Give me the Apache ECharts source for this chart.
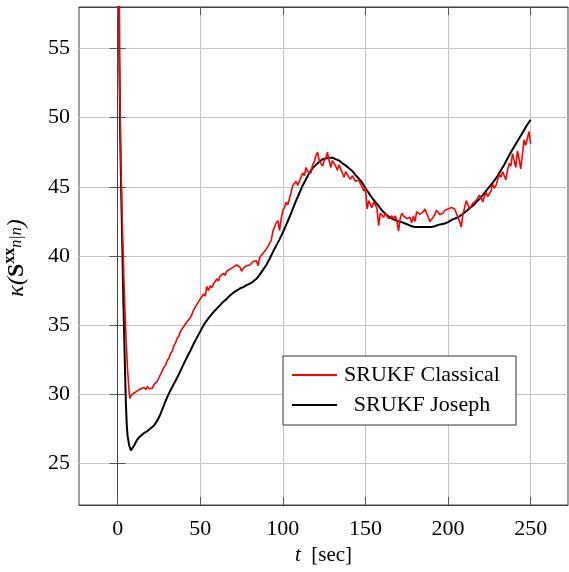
<!DOCTYPE html>
<html>
<head>
<meta charset="utf-8">
<script src="https://cdn.jsdelivr.net/npm/echarts@6/dist/echarts.min.js"></script>
<style>
html,body{margin:0;padding:0;background:#fff;}
#chart{width:569px;height:572px;}
</style>
</head>
<body>
<div id="chart"></div>
<script>
// ---- Data ----
var seriesNames = ['SRUKF Classical', 'SRUKF Joseph'];

var classicalT = [0,1,2,3,4,5,6,7,7.5,8,9,10,11,12,13,14,15,16,17,18,19,20,21,22,23,24,25,26,27,28,29,30,31,32,33,34,35,36,37,38,39,40,41,42,43,44,45,46,47,48,49,50,51,52,53,54,55,56,57,58,59,60,61,62,63,64,65,66,67,68,69,70,71,72,73,74,75,76,77,78,79,80,81,82,83,84,85,86,87,88,89,90,91,92,93,94,95,96,97,98,99,100,101,102,103,104,105,106,107,108,109,110,111,112,113,114,115,116,117,118,119,120,121,122,123,124,125,126,127,128,129,130,131,132,133,134,135,136,137,138,139,140,141,142,143,144,145,146,147,148,149,150,151,152,153,154,155,156,157,158,159,160,161,162,163,164,165,166,167,168,169,170,171,172,173,174,175,176,177,178,179,180,181,182,183,184,185,186,187,188,189,190,191,192,193,194,195,196,197,198,199,200,201,202,203,204,205,206,207,208,209,210,211,212,213,214,215,216,217,218,219,220,221,222,223,224,225,226,227,228,229,230,231,232,233,234,235,236,237,238,239,240,241,242,243,244,245,246,247,248,249,250];
var classicalK = [120,54,46.5,41.5,37.5,34.2,31.8,30.1,29.7,29.9,29.85,30.1,30.0,30.25,30.15,30.4,30.3,30.5,30.35,30.55,30.4,30.5,30.45,30.7,30.6,30.95,31.2,31.45,31.7,31.95,32.1,32.45,32.6,32.95,33.1,33.5,33.7,34.05,34.2,34.55,34.6,34.9,35.0,35.25,35.3,35.55,35.8,36.1,36.2,36.5,36.4,36.9,36.95,37.25,37.1,37.8,37.5,37.85,37.7,38.0,38.15,38.35,38.2,38.55,38.45,38.75,38.6,38.9,38.8,39.05,38.95,39.2,39.1,39.35,39.45,39.2,38.9,39.1,39.05,39.3,39.2,39.35,39.45,39.6,39.5,39.65,39.3,39.9,40.05,40.2,40.35,40.5,40.7,40.95,41.15,41.8,41.75,42.4,42.55,41.85,42.7,43.3,43.5,43.9,43.7,43.6,44.6,45.1,45.0,45.4,45.1,45.2,45.7,46.0,45.8,46.4,46.1,46.2,46.0,46.6,46.8,47.25,47.5,46.9,46.7,46.5,46.9,47.1,47.5,46.9,46.4,46.9,46.8,46.5,46.2,46.6,46.3,46.0,45.7,46.1,46.0,45.7,45.55,45.8,45.7,45.4,45.3,45.5,45.2,45.0,44.7,44.9,43.4,44.0,43.7,43.5,43.9,43.7,43.4,42.2,43.1,43.0,42.8,43.1,43.0,42.7,42.65,42.9,42.7,42.9,42.6,41.8,42.7,43.1,42.9,43.0,42.7,42.65,42.8,42.4,42.9,42.5,43.2,43.1,43.0,42.9,43.2,43.4,43.1,42.8,42.5,42.4,42.8,43.0,43.3,43.2,43.0,42.9,43.1,43.3,43.2,43.4,43.3,43.5,43.4,43.4,43.1,42.8,42.5,42.1,43.0,43.5,44.0,43.7,43.4,43.6,43.8,43.7,44.0,43.9,44.4,44.2,43.9,44.3,44.6,44.3,44.25,44.7,45.2,44.9,45.1,45.5,45.9,45.7,46.1,45.8,45.5,46.2,46.7,46.5,47.4,46.9,46.4,47.6,47.0,46.3,47.3,48.4,48.0,47.9,49.0,48.1];

var josephT = [0,0.5,1,1.5,2,2.5,3,3.5,4,4.5,5,5.5,6,7,8,9,10,11,12,13,14,16,18,20,22,24,26,28,30,32,34,36,38,40,42,44,46,48,50,52,54,56,58,60,62,64,66,68,70,72,74,76,78,80,82,84,86,88,90,92,94,96,98,100,102,104,106,108,110,112,114,116,118,120,122,124,126,128,130,132,134,136,138,140,142,144,146,148,150,152,154,156,158,160,162,164,166,168,170,172,174,176,178,180,182,184,186,188,190,192,194,196,198,200,202,204,206,208,210,212,214,216,218,220,222,224,226,228,230,232,234,236,238,240,242,244,246,248,250];
var josephK = [120,75,55,49,45.5,42.6,39.5,36.5,34.0,31.5,29.3,27.8,27.0,26.3,25.95,26.05,26.3,26.55,26.75,26.9,27.0,27.2,27.35,27.55,27.75,28.1,28.6,29.2,29.8,30.3,30.75,31.2,31.7,32.2,32.7,33.15,33.65,34.1,34.55,35.0,35.35,35.65,35.95,36.2,36.45,36.7,36.9,37.15,37.35,37.5,37.65,37.75,37.9,38.0,38.15,38.35,38.65,39.0,39.35,39.8,40.3,40.75,41.2,41.7,42.25,42.8,43.4,44.0,44.55,45.1,45.55,46.0,46.35,46.6,46.8,47.0,47.05,47.1,47.1,47.0,46.9,46.7,46.55,46.35,46.15,45.85,45.6,45.3,44.9,44.55,44.2,43.9,43.6,43.3,43.05,42.85,42.7,42.6,42.5,42.45,42.35,42.25,42.15,42.1,42.1,42.1,42.1,42.1,42.1,42.15,42.25,42.3,42.35,42.45,42.6,42.7,42.8,42.95,43.15,43.35,43.55,43.75,44.0,44.25,44.55,44.85,45.15,45.45,45.8,46.2,46.6,47.05,47.5,47.9,48.3,48.7,49.1,49.5,49.85];

var xTicks = [0,50,100,150,200,250];
var yTicks = [25,30,35,40,45,50,55];

// ---- Build chart ----
function zip(a, b) { var r = []; for (var i = 0; i < a.length; i++) r.push([a[i], b[i]]); return r; }

var FONT = 'Liberation Serif';
var chart = echarts.init(document.getElementById('chart'), null, {renderer: 'canvas'});

var gridLineStyle = {color: '#c4c4c4', width: 1};
var tickStyle = {color: '#555', width: 1};

var option = {
  animation: false,
  backgroundColor: '#fff',
  grid: {left: 79, top: 7, right: 1, bottom: 67, show: true, borderColor: '#444', borderWidth: 1, backgroundColor: 'transparent'},
  xAxis: [{
    type: 'value', min: -23.4, max: 272.6,
    axisLine: {show: true, lineStyle: {color: '#444'}},
    axisTick: {show: true, inside: true, length: 8, lineStyle: tickStyle, customValues: xTicks},
    axisLabel: {customValues: xTicks, margin: 13, color: '#000', fontFamily: FONT, fontSize: 22},
    splitLine: {show: true, lineStyle: gridLineStyle},
    name: '{i|t}  [sec]',
    nameLocation: 'middle', nameGap: 34,
    nameTextStyle: {color: '#000', fontFamily: FONT, fontSize: 21,
      rich: {i: {fontStyle: 'italic', fontFamily: FONT, fontSize: 21, color: '#000'}}}
  }, {
    type: 'value', position: 'top', min: -23.4, max: 272.6,
    axisLine: {show: true, lineStyle: {color: '#444'}},
    axisTick: {show: true, inside: true, length: 8, lineStyle: tickStyle, customValues: xTicks},
    axisLabel: {show: false, customValues: xTicks},
    splitLine: {show: false}
  }],
  yAxis: [{
    type: 'value', min: 22, max: 58,
    axisLine: {show: true, lineStyle: {color: '#444'}},
    axisTick: {show: true, inside: true, length: 8, lineStyle: tickStyle, customValues: yTicks},
    axisLabel: {customValues: yTicks, margin: 9, color: '#000', fontFamily: FONT, fontSize: 22},
    splitLine: {show: true, lineStyle: gridLineStyle}
  }, {
    type: 'value', position: 'right', min: 22, max: 58,
    axisLine: {show: true, lineStyle: {color: '#444'}},
    axisTick: {show: true, inside: true, length: 8, lineStyle: tickStyle, customValues: yTicks},
    axisLabel: {show: false, customValues: yTicks},
    splitLine: {show: false}
  }],
  legend: {
    orient: 'vertical', left: 283, top: 356,
    itemWidth: 45, itemHeight: 2, itemGap: 8,
    icon: 'rect',
    padding: [8, 14, 9, 9],
    borderColor: '#333', borderWidth: 1, borderRadius: 0, backgroundColor: '#fff',
    data: [{name: seriesNames[0], icon: 'rect', itemStyle: {color: '#ff0000'}},
           {name: seriesNames[1], icon: 'rect', itemStyle: {color: '#000000'}}],
    formatter: function (n) { return '{c|' + n + '}'; },
    textStyle: {color: '#000', fontFamily: FONT, fontSize: 22,
      rich: {c: {width: 160, align: 'center', fontFamily: FONT, fontSize: 22, color: '#000', lineHeight: 22}}}
  },
  graphic: [{
    type: 'text', x: 17, y: 258, rotation: Math.PI / 2,
    style: {
      text: '{k|κ(}{b|S}{s|xx}{u|n|n}{k|)}',
      align: 'center', verticalAlign: 'middle',
      rich: {
        k: {fontFamily: FONT, fontSize: 24, fontStyle: 'italic', fill: '#000', lineHeight: 30, verticalAlign: 'middle'},
        b: {fontFamily: FONT, fontSize: 24, fontWeight: 'bold', fill: '#000', lineHeight: 30, verticalAlign: 'middle'},
        s: {fontFamily: FONT, fontSize: 16, fontWeight: 'bold', fill: '#000', lineHeight: 16, verticalAlign: 'top'},
        u: {fontFamily: FONT, fontSize: 16, fontStyle: 'italic', fill: '#000', lineHeight: 16, verticalAlign: 'middle'}
      }
    }
  }],
  series: [{
    name: seriesNames[0], type: 'line', xAxisIndex: 0, yAxisIndex: 0,
    data: zip(classicalT, classicalK),
    symbol: 'none', showSymbol: false, clip: true,
    lineStyle: {color: '#ff0000', width: 1.6}, itemStyle: {color: '#ff0000'}, z: 3
  }, {
    name: seriesNames[1], type: 'line', xAxisIndex: 0, yAxisIndex: 0,
    data: zip(josephT, josephK),
    symbol: 'none', showSymbol: false, clip: true,
    lineStyle: {color: '#000000', width: 2}, itemStyle: {color: '#000000'}, z: 2
  }]
};
chart.setOption(option);
</script>
</body>
</html>
